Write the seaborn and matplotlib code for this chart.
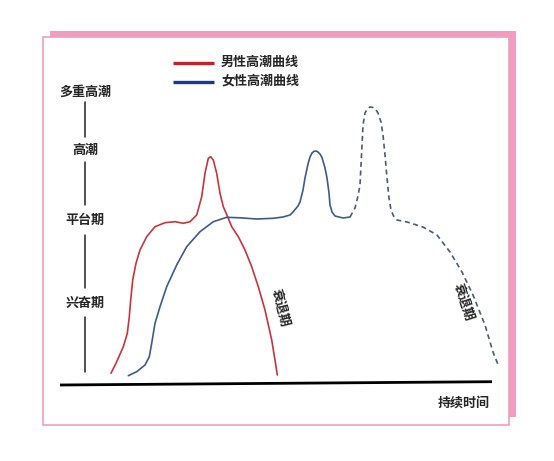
import numpy as np
import pandas as pd
import matplotlib
matplotlib.use('Agg')
import matplotlib.pyplot as plt
from matplotlib.patches import Rectangle
import seaborn as sns

# Curve points (pixel coordinates, y down)
red_x = [111, 116.7, 123.3, 127.3, 129.3, 130.7, 132.7, 136, 140, 146.7, 155, 165, 175, 183.3, 190,
         196.7, 201.7, 205, 208.3, 210.7, 213.3, 216.7, 220, 223.3, 228.3, 231.7, 238.3, 245, 251.7,
         258.3, 265, 271.7, 275, 277.3]
red_y = [373.3, 361.7, 346.7, 333.3, 316.7, 300, 280, 263.3, 250, 236.7, 226.7, 222.7, 221.7, 223.3, 221.7,
         215, 196.7, 173.3, 158.3, 156.7, 160, 173.3, 193.3, 206.7, 218.3, 226.7, 236.7, 250, 266.7,
         286.7, 310, 340, 360, 375]

blue_x = [128.3, 136.7, 145, 149.3, 151.7, 155, 160, 166.7, 176.7, 186.7, 200, 213.3, 226.7, 240, 256.7,
          273.3, 283, 290, 293, 298, 300, 303, 305, 308, 310, 312, 314, 316, 318, 320, 322, 325, 327,
          329, 330, 332, 335, 343, 350]
blue_y = [375.7, 371.7, 365, 356.7, 343.3, 323.3, 306.7, 286.7, 265, 246.7, 231.7, 221.7, 217.3, 217.8, 219,
          218.3, 217, 215, 212, 206, 202, 190, 178, 164, 157, 153, 151.3, 151, 152, 154, 157.5, 168, 178,
          193, 205, 212, 216, 218, 217]

dash_x = [350, 355, 358, 360, 361, 362, 363, 365, 367.5, 370, 373, 376, 378, 381, 383, 385, 387, 389, 391,
          394, 397, 407, 423, 437, 450, 462, 473, 485, 493, 499]
dash_y = [217, 208, 196, 185, 165, 145, 125, 113, 108.5, 107, 107.5, 110, 113, 122, 135, 155, 178, 198, 210,
          217, 220, 222, 227, 235, 252, 272, 295, 325, 352, 367]

legend_labels = ['男性高潮曲线', '女性高潮曲线']
stage_labels = ['多重高潮', '高潮', '平台期', '兴奋期']
stage_y = [92, 150, 220, 303]
stage_lines = [(102, 137), (162, 205), (235, 288), (317, 372)]
fade_label = '衰退期'
x_label = '持续时间'

sns.set_style('white')
plt.rcParams['font.family'] = ['Noto Sans CJK SC', 'DejaVu Sans']

pink = '#f09dbf'
red = '#c9343c'
blue = '#3b5b8c'
dash_col = '#4b5b72'
fs = 9.4

fig = plt.figure(figsize=(5.54, 4.61), dpi=100)
ax = fig.add_axes([0, 0, 1, 1])

# Card frame with pink offset shadow
ax.add_patch(Rectangle((50, 30.7), 466, 386, facecolor=pink, edgecolor='none', zorder=0))
ax.add_patch(Rectangle((43, 36.7), 466, 388, facecolor='white', edgecolor=pink, lw=1.2, zorder=1))

# Curves
df_red = pd.DataFrame({'x': red_x, 'y': red_y})
df_blue = pd.DataFrame({'x': blue_x, 'y': blue_y})
df_dash = pd.DataFrame({'x': dash_x, 'y': dash_y})
sns.lineplot(data=df_red, x='x', y='y', sort=False, estimator=None, color=red, lw=1.2, ax=ax, zorder=3)
sns.lineplot(data=df_blue, x='x', y='y', sort=False, estimator=None, color=blue, lw=1.2, ax=ax, zorder=3)
sns.lineplot(data=df_dash, x='x', y='y', sort=False, estimator=None, color=dash_col, lw=1.2, ax=ax, zorder=3)
ax.lines[-1].set_dashes([3, 2.2])
for ln in ax.lines:
    ln.set_solid_joinstyle('round')
ax.set_xlim(0, 554)
ax.set_ylim(461, 0)
ax.axis('off')

# Time axis
ax.plot([60, 492], [385, 381.7], color='black', lw=2, solid_capstyle='butt', zorder=3)
ax.text(490, 403, x_label, ha='right', va='center', fontsize=fs, fontweight='bold', zorder=4)

# Stage labels with connecting lines
for lab, y in zip(stage_labels, stage_y):
    ax.text(85, y, lab, ha='center', va='center', fontsize=fs, fontweight='bold', zorder=4)
for y0, y1 in stage_lines:
    ax.plot([85, 85], [y0, y1], color='#222222', lw=1.1, zorder=3)

# Legend
for i, (lab, c) in enumerate(zip(legend_labels, ['#d41a24', '#1c3b84'])):
    yy = 63.3 + 19 * i
    ax.plot([173, 214], [yy, yy], color=c, lw=2.4, solid_capstyle='butt', zorder=4)
    ax.text(221, yy - 1.5, lab, ha='left', va='center', fontsize=fs, fontweight='bold', zorder=4)

# Resolution labels
ax.text(281, 308, fade_label, rotation=-76, rotation_mode='anchor', ha='center', va='center',
        fontsize=fs, fontweight='bold', zorder=4)
ax.text(464, 302, fade_label, rotation=-72, rotation_mode='anchor', ha='center', va='center',
        fontsize=fs, fontweight='bold', zorder=4)

fig.savefig('out.png', dpi=100, facecolor='white')
